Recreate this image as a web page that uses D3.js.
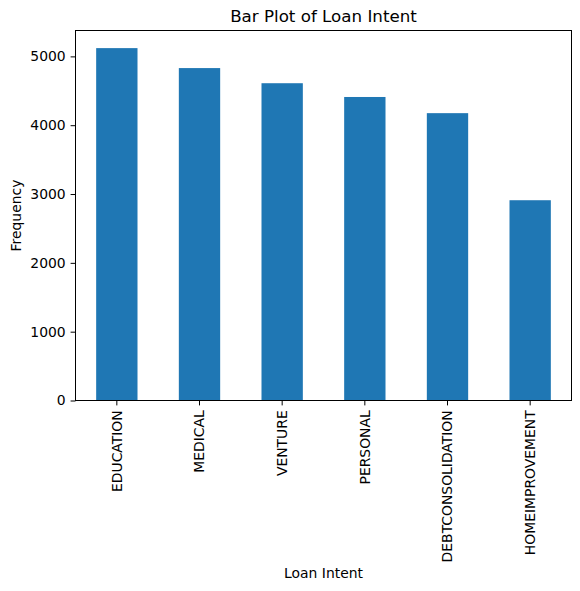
<!doctype html>
<html>
<meta charset="utf-8">
<title>Bar Plot of Loan Intent</title>
<style>
    body { margin: 0; background: #fff; }
    svg { display: block; }
    text { font-family: "DejaVu Sans", sans-serif; fill: #000; }
    .axis path, .axis line { stroke: #000; stroke-width: 1; }
    .axis text { font-size: 13.9px; }
</style>
<svg id="chart" width="580" height="591"></svg>
<script src="https://cdn.jsdelivr.net/npm/d3@7"></script>
<script>
    // data
    var intents = ["EDUCATION", "MEDICAL", "VENTURE", "PERSONAL", "DEBTCONSOLIDATION", "HOMEIMPROVEMENT"];
    var counts = [5120, 4830, 4610, 4410, 4175, 2910];
    var yTicks = [0, 1000, 2000, 3000, 4000, 5000];

    var plotLeft = 75.5, plotRight = 571.5, plotTop = 30.5, plotBottom = 400.5;

    var svg = d3.select("#chart");

    var x = d3.scaleBand()
        .domain(intents)
        .range([plotLeft, plotRight])
        .paddingInner(0.5)
        .paddingOuter(0.25);

    var y = d3.scaleLinear()
        .domain([0, d3.max(counts) * 1.05])
        .range([plotBottom, plotTop]);

    // bars
    svg.append("g").selectAll("rect")
        .data(intents)
        .join("rect")
        .attr("x", function (d) { return x(d); })
        .attr("width", x.bandwidth())
        .attr("y", function (d, i) { return y(counts[i]); })
        .attr("height", function (d, i) { return plotBottom - y(counts[i]); })
        .attr("fill", "#1f77b4");

    // y axis
    var gy = svg.append("g")
        .attr("class", "axis")
        .attr("transform", "translate(" + plotLeft + ",0)")
        .call(d3.axisLeft(y).tickValues(yTicks).tickSize(4.9).tickPadding(4.9).tickFormat(d3.format("d")));
    gy.select(".domain").remove();

    // x axis
    var gx = svg.append("g")
        .attr("class", "axis")
        .attr("transform", "translate(0," + plotBottom + ")")
        .call(d3.axisBottom(x).tickSize(4.9).tickPadding(4.9));
    gx.select(".domain").remove();
    gx.selectAll("text")
        .attr("transform", "rotate(-90)")
        .attr("x", -9.8)
        .attr("y", 0)
        .attr("dy", "0.35em")
        .attr("text-anchor", "end");

    // frame
    svg.append("rect")
        .attr("x", plotLeft).attr("y", plotTop)
        .attr("width", plotRight - plotLeft).attr("height", plotBottom - plotTop)
        .attr("fill", "none").attr("stroke", "#000").attr("stroke-width", 1);

    // labels
    svg.append("text")
        .attr("x", (plotLeft + plotRight) / 2).attr("y", 22)
        .attr("text-anchor", "middle")
        .style("font-size", "16.7px")
        .text("Bar Plot of Loan Intent");

    svg.append("text")
        .attr("x", (plotLeft + plotRight) / 2).attr("y", 578)
        .attr("text-anchor", "middle")
        .style("font-size", "13.9px")
        .text("Loan Intent");

    svg.append("text")
        .attr("transform", "translate(21," + (plotTop + plotBottom) / 2 + ") rotate(-90)")
        .attr("text-anchor", "middle")
        .style("font-size", "13.9px")
        .text("Frequency");
</script>
</html>
